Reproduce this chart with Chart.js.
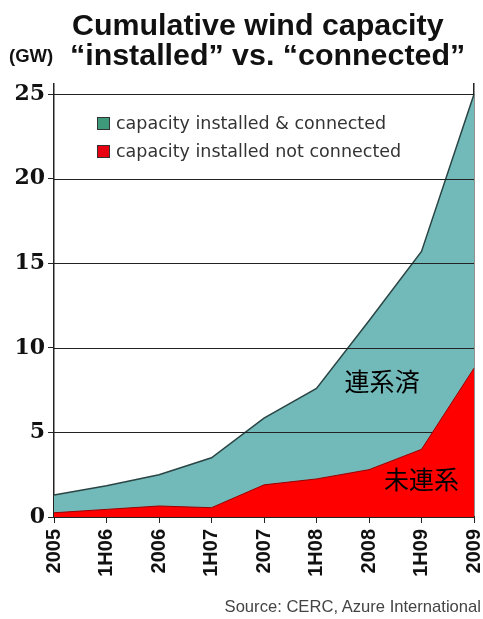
<!DOCTYPE html>
<html>
<head>
<meta charset="utf-8">
<script src="https://cdn.jsdelivr.net/npm/chart.js@4.4.0/dist/chart.umd.min.js"></script>
<style>
  body { margin: 0; background: #fff; }
  #wrap { position: relative; width: 483px; height: 619px; overflow: hidden; }
  canvas { position: absolute; left: 0; top: 0; }
  .t { position: absolute; line-height: 1; white-space: nowrap; font-family: "Liberation Sans", Arial, sans-serif; }
</style>
</head>
<body>
<div id="wrap">
  <canvas id="grafico" width="483" height="619"></canvas>
  <div class="t" style="left:72px;top:9px;font-size:30.4px;font-weight:bold;color:#111">Cumulative wind capacity</div>
  <div class="t" style="left:70px;top:39px;font-size:30.4px;font-weight:bold;color:#111">“installed” vs. “connected”</div>
  <div class="t" style="left:9px;top:47px;font-size:18.5px;font-weight:bold;color:#111">(GW)</div>
  <div class="t" style="right:2px;top:599px;font-size:16.6px;color:#444">Source: CERC, Azure International</div>
</div>
<script>
// periodos del eje x
var periodos = ["2005", "1H06", "2006", "1H07", "2007", "1H08", "2008", "1H09", "2009"];
// capacidad instalada total (GW)
var instalada = [1.3, 1.85, 2.5, 3.5, 5.85, 7.6, 11.6, 15.7, 25];
// instalada pero no conectada (GW)
var noConectada = [0.25, 0.45, 0.65, 0.55, 1.9, 2.25, 2.8, 4.0, 8.8];
var nombres = ["capacity installed & connected", "capacity installed not connected"];

// textos en japones dentro del area (posicion en indice de categoria / GW)
var notas = [
  { texto: "連系済", x: 6.25, y: 8.0 },
  { texto: "未連系", x: 7.0, y: 2.2 }
];

//lineas de la grilla por encima del area verde pero debajo de la roja
var grillaEncima = {
  id: "grillaEncima",
  afterDatasetDraw: function (chart, args) {
    if (args.index !== 1) return;
    var ctx = chart.ctx, area = chart.chartArea, y = chart.scales.y;
    ctx.save();
    ctx.strokeStyle = "#222";
    ctx.lineWidth = 1;
    y.ticks.forEach(function (t) {
      var py = Math.round(y.getPixelForValue(t.value)) + 0.5;
      ctx.beginPath();
      ctx.moveTo(area.left, py);
      ctx.lineTo(area.right, py);
      ctx.stroke();
    });
    ctx.restore();
  }
};

// leyenda dibujada a mano dentro del grafico + textos japoneses
var extras = {
  id: "extras",
  afterDraw: function (chart) {
    var ctx = chart.ctx;
    var cajas = [
      { txt: nombres[0], color: "#3f9a7c", y: 117 },
      { txt: nombres[1], color: "#e60012", y: 145 }
    ];
    ctx.save();
    ctx.font = "17.5px 'DejaVu Sans', sans-serif";
    ctx.textBaseline = "middle";
    cajas.forEach(function (c) {
      ctx.fillStyle = c.color;
      ctx.fillRect(97, c.y, 13, 13);
      ctx.strokeStyle = "#333";
      ctx.lineWidth = 1;
      ctx.strokeRect(97.5, c.y + 0.5, 12, 12);
      ctx.fillStyle = "#333";
      ctx.fillText(c.txt, 116, c.y + 7);
    });
    var sx = chart.scales.x, sy = chart.scales.y;
    ctx.font = "25px 'Noto Sans CJK JP', sans-serif";
    ctx.textAlign = "center";
    ctx.fillStyle = "#000";
    notas.forEach(function (n) {
      ctx.fillText(n.texto, sx.getPixelForValue(n.x), sy.getPixelForValue(n.y));
    });
    ctx.restore();
  }
};

var graficar = document.getElementById("grafico").getContext("2d");
var myChart = new Chart(graficar, {
  type: "line",
  data: {
    labels: periodos,
    datasets: [
      {
        label: nombres[1],
        data: noConectada,
        fill: "origin",
        backgroundColor: "#ff0000",
        borderColor: "#9a0000",
        borderWidth: 1,
        pointRadius: 0,
        tension: 0
      },
      {
        label: nombres[0],
        data: instalada,
        fill: "origin",
        backgroundColor: "#72b9b9",
        borderColor: "#2b4545",
        borderWidth: 1.5,
        pointRadius: 0,
        tension: 0
      }
    ]
  },
  plugins: [grillaEncima, extras],
  options: {
    responsive: false,
    animation: false,
    layout: { padding: { top: 84, right: 8, bottom: 22, left: 0 } },
    plugins: {
      legend: { display: false },
      title: { display: false },
      tooltip: { enabled: false }
    },
    scales: {
      x: {
        offset: false,
        grid: { display: true, drawOnChartArea: false, tickLength: 6, color: "#222" },
        border: { display: true, color: "#222", width: 1.5 },
        ticks: {
          minRotation: 90, maxRotation: 90, autoSkip: false, padding: 6, color: "#111",
          font: { family: "'Liberation Sans', Arial", weight: "bold", size: 20 }
        },
        afterFit: function (s) {
          s.height = 80;
          // sin margen extra a los lados por las etiquetas giradas
          s.paddingLeft = 0;
          s.paddingRight = 0;
        }
      },
      y: {
        min: 0,
        max: 25.6,
        // las lineas horizontales las pinta grillaEncima, aqui solo las marcas
        grid: { color: "#222", tickLength: 6, lineWidth: 1, drawOnChartArea: false },
        border: { color: "#222", width: 1.5 },
        ticks: {
          stepSize: 5, includeBounds: false, padding: 3, color: "#111",
          font: { family: "'DejaVu Serif', serif", weight: "bold", size: 22 }
        },
        afterFit: function (s) { s.width = 54; }
      },
      y2: {
        position: "right",
        min: 0,
        max: 25.6,
        grid: { display: false, drawTicks: false },
        border: { color: "#222", width: 1.5 },
        ticks: { display: false },
        afterFit: function (s) { s.width = 1; }
      }
    }
  }
});
</script>
</body>
</html>
